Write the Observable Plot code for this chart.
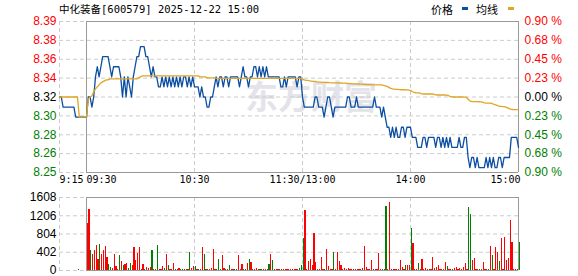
<!DOCTYPE html>
<html><head><meta charset="utf-8">
<script src="https://cdn.jsdelivr.net/npm/d3@7"></script>
<script src="https://cdn.jsdelivr.net/npm/@observablehq/plot@0.6"></script>
<style>
body{margin:0;background:#fff;}
#wrap{position:relative;width:578px;height:276px;overflow:hidden;background:#fff;}
#title{position:absolute;left:59px;top:0;height:18px;line-height:18px;font-size:10.5px;font-family:"DejaVu Sans Mono","Noto Sans CJK SC",monospace;color:#000;white-space:nowrap;}
.lg{position:absolute;top:0;height:18px;line-height:18px;font-size:11px;font-family:"Noto Sans CJK SC",sans-serif;color:#000;}
.sw{position:absolute;width:6px;height:3px;}
#pp{position:absolute;left:0;top:0;}
#vp{position:absolute;left:0;top:190px;}
</style></head>
<body>
<div id="wrap">
  <div id="pp"></div>
  <div id="vp"></div>
  <div id="title"></div>
  <div class="lg" id="lg1" style="left:431px"></div>
  <div class="sw" style="left:462px;top:7px;background:#0b4ea2"></div>
  <div class="lg" id="lg2" style="left:476px"></div>
  <div class="sw" style="left:508px;top:7px;background:#e0a526"></div>
</div>
<script>
// ---------- data ----------
const titleText = "中化装备[600579] 2025-12-22 15:00";
const legendNames = ["价格", "均线"];
const prevClose = 8.32;
const pctLevels = [0.9, 0.675, 0.45, 0.225, 0, -0.225, -0.45, -0.675, -0.9];
const leftLabels = ["8.39","8.38","8.36","8.34","8.32","8.30","8.28","8.26","8.25"];
const rightLabels = ["0.90 %","0.68 %","0.45 %","0.23 %","0.00 %","0.23 %","0.45 %","0.68 %","0.90 %"];
const volTicks = [1608, 1206, 804, 402, 0];
const volTickLabels = ["1608", "1206", "804", "402", "0"];
const xTickMinutes = [-15, 0, 60, 120, 180, 240];
const xTickLabels = ["9:15", "09:30", "10:30", "11:30/13:00", "14:00", "15:00"];
const gridMinutes = [-15, 60, 120, 180];
const sessionStart = 0, sessionEnd = 240, preStart = -15;

// call auction 9:15-9:30
const preMinutes = [-15,-14,-13,-12,-11,-10,-9,-8,-7,-6,-5,-4,0];
const prePrice   = [8.32,8.32,8.31,8.31,8.31,8.31,8.31,8.31,8.31,8.30,8.30,8.30,8.30];
const preAvg     = [8.32,8.32,8.32,8.32,8.32,8.32,8.32,8.32,8.32,8.32,8.32,8.30,8.30];
const preVolMinutes = [-5];
const preVol = [22];
const preDir = ["G"];

// minute prices 09:30 .. 15:00 (index 0..240, 11:30 and 13:00 share index 120)
const price = [
8.30,8.32,8.32,8.31,8.32,8.34,8.35,8.34,8.35,8.36,
8.36,8.36,8.36,8.35,8.34,8.35,8.35,8.35,8.35,8.34,
8.32,8.34,8.32,8.34,8.33,8.32,8.34,8.35,8.36,8.36,
8.37,8.37,8.37,8.36,8.36,8.35,8.34,8.35,8.34,8.34,
8.33,8.33,8.34,8.33,8.34,8.33,8.34,8.33,8.34,8.33,
8.34,8.33,8.34,8.33,8.34,8.34,8.33,8.34,8.33,8.34,
8.33,8.33,8.33,8.32,8.33,8.32,8.32,8.31,8.31,8.32,
8.32,8.33,8.34,8.33,8.34,8.34,8.33,8.34,8.34,8.33,
8.34,8.34,8.34,8.34,8.34,8.33,8.34,8.35,8.34,8.34,
8.33,8.34,8.34,8.35,8.35,8.34,8.35,8.34,8.35,8.34,
8.35,8.34,8.34,8.34,8.34,8.34,8.34,8.34,8.33,8.33,
8.34,8.33,8.34,8.34,8.34,8.34,8.34,8.33,8.34,8.34,
8.32,8.31,8.31,8.31,8.31,8.31,8.31,8.32,8.32,8.31,
8.31,8.31,8.30,8.31,8.32,8.32,8.31,8.30,8.31,8.31,
8.31,8.31,8.31,8.31,8.31,8.32,8.32,8.31,8.31,8.31,
8.32,8.31,8.31,8.31,8.31,8.31,8.31,8.31,8.31,8.31,
8.32,8.31,8.31,8.31,8.30,8.31,8.30,8.29,8.29,8.28,
8.29,8.28,8.29,8.28,8.28,8.29,8.29,8.28,8.29,8.29,
8.29,8.28,8.28,8.28,8.27,8.27,8.27,8.28,8.28,8.27,
8.28,8.28,8.28,8.28,8.27,8.28,8.28,8.27,8.28,8.27,
8.28,8.27,8.28,8.27,8.27,8.27,8.27,8.28,8.27,8.27,
8.28,8.28,8.26,8.25,8.26,8.26,8.25,8.26,8.25,8.25,
8.25,8.25,8.26,8.25,8.26,8.25,8.26,8.25,8.25,8.26,
8.26,8.25,8.26,8.26,8.26,8.26,8.28,8.28,8.28,8.28,
8.27];

const avgPrice = [
8.300,8.318,8.320,8.321,8.325,8.328,8.330,8.332,8.334,8.335,
8.336,8.337,8.337,8.338,8.338,8.338,8.338,8.338,8.338,8.338,
8.338,8.338,8.338,8.338,8.338,8.338,8.338,8.338,8.338,8.339,
8.340,8.341,8.341,8.341,8.341,8.341,8.341,8.341,8.341,8.341,
8.341,8.341,8.341,8.341,8.341,8.341,8.341,8.341,8.341,8.341,
8.341,8.341,8.341,8.341,8.341,8.341,8.341,8.341,8.341,8.341,
8.341,8.341,8.341,8.340,8.340,8.340,8.340,8.339,8.339,8.339,
8.339,8.339,8.3385,8.3385,8.3385,8.3385,8.3385,8.3385,8.3385,8.3385,
8.3385,8.3385,8.3385,8.3385,8.3385,8.3385,8.3385,8.3385,8.3385,8.3385,
8.3385,8.3385,8.3385,8.3385,8.3385,8.3385,8.3385,8.3385,8.3385,8.3385,
8.3385,8.3385,8.3385,8.3385,8.3385,8.3385,8.3385,8.3385,8.3385,8.3385,
8.3385,8.3385,8.3385,8.3385,8.3385,8.3385,8.3385,8.3385,8.3385,8.3385,
8.3380,8.3370,8.3365,8.3365,8.3360,8.3358,8.3355,8.3354,8.3350,8.3348,
8.3347,8.3346,8.3345,8.3344,8.3344,8.3342,8.3341,8.3340,8.3340,8.3340,
8.3340,8.3339,8.3338,8.3337,8.3337,8.3335,8.3333,8.3332,8.3331,8.3330,
8.3330,8.3329,8.3328,8.3327,8.3325,8.3324,8.3323,8.3322,8.3322,8.3321,
8.3321,8.3321,8.3320,8.3320,8.3320,8.3315,8.3310,8.3305,8.3295,8.3285,
8.3280,8.3278,8.3276,8.3275,8.3274,8.3272,8.3272,8.3272,8.3270,8.3268,
8.3266,8.3255,8.3245,8.3242,8.3240,8.3240,8.3232,8.3230,8.3230,8.3230,
8.3230,8.3230,8.3230,8.3228,8.3222,8.3220,8.3220,8.3220,8.3220,8.3220,
8.3218,8.3215,8.3205,8.3202,8.3200,8.3200,8.3200,8.3200,8.3200,8.3200,
8.3199,8.3198,8.3178,8.3162,8.3155,8.3154,8.3154,8.3154,8.3153,8.3152,
8.3150,8.3142,8.3140,8.3140,8.3139,8.3138,8.3130,8.3124,8.3118,8.3110,
8.3108,8.3106,8.3105,8.3100,8.3092,8.3082,8.3078,8.3076,8.3075,8.3075,
8.3074];

const volume = [
1028,1347,434,362,434,543,253,565,347,449,
521,290,130,58,36,347,87,22,326,195,
109,130,159,36,145,109,507,217,376,507,
22,130,22,72,36,72,434,22,22,543,
22,22,87,50,347,109,22,22,159,22,
22,50,30,22,22,22,22,391,50,87,
87,22,22,22,507,347,22,22,22,50,
470,22,22,239,22,326,50,22,22,109,
22,22,22,22,326,22,130,22,22,145,
232,181,22,22,50,22,22,22,22,22,
22,130,362,217,22,22,22,22,22,22,
22,22,22,22,22,22,22,22,40,110,
694,1316,22,205,234,110,819,183,22,22,
278,22,22,453,88,22,22,402,22,402,
197,110,22,40,22,40,22,22,22,22,
22,22,22,40,526,70,22,22,219,22,
22,22,366,22,22,22,1404,22,1491,22,
22,22,22,22,219,70,22,110,110,110,
936,600,22,22,146,22,234,22,40,22,
22,22,278,40,70,100,22,22,22,183,
88,22,22,22,40,70,22,40,22,70,
146,22,1389,1243,219,256,22,22,30,22,
183,22,22,30,526,329,22,497,402,205,
694,22,716,219,256,1111,621,22,22,22,
621];
// R = up tick (red), G = down tick (green)
const volDir = (
"RRGRRRRGRR"+"RRGGRRRRGR"+"GRRGGRRRRR"+"RRGRRRGRRG"+"RRRGRGRRRG"+
"RRGGRGRGRR"+"GRGRRGRGRR"+"RRGGGRRGRG"+"RRGGRRRGGR"+"GRRRRRGGRR"+
"RGRGRRRGRR"+"RRRRRRRRGG"+"GRRRRRRRGR"+"RRGRRRRGRR"+"RRRRRRRRRR"+
"RRRRRRRRRR"+"RRRRGRGRRR"+"RRRRRRRGRR"+"GRRRGRRRRR"+"RRRRRRRRRR"+
"GRRRRRRRRR"+"RRGGRRRRGR"+"RRRGRGRRRG"+"RRRRRRRRRR"+"G").split("");

// ---------- styles ----------
const BLUE = "#0b4ea2", ORANGE = "#e0a526", RED = "#ff0000", GREEN = "#008000";
const FRAME = "#999999", GRID = "#cccccc";
const SANS = "Liberation Sans, Arial, sans-serif";
const MONO = "DejaVu Sans Mono, monospace";

document.getElementById("title").textContent = titleText;
document.getElementById("lg1").textContent = legendNames[0];
document.getElementById("lg2").textContent = legendNames[1];

const yMin = prevClose * (1 - 0.9 / 100), yMax = prevClose * (1 + 0.9 / 100);
const levels = pctLevels.map((pc, i) => ({
  p: prevClose * (1 + pc / 100), left: leftLabels[i], right: rightLabels[i],
  color: pc > 0 ? RED : pc < 0 ? GREEN : "#000000"
}));
const mins = d3.range(sessionStart, sessionEnd + 1);
const priceData = mins.map(m => ({m, p: price[m], a: avgPrice[m]}));
const preData = preMinutes.map((m, i) => ({m, p: prePrice[i], a: preAvg[i]}));
const volData = mins.map(m => ({m, v: volume[m], d: volDir[m]}))
  .concat(preVolMinutes.map((m, i) => ({m, v: preVol[i], d: preDir[i]})));
const xTicks = xTickMinutes.map((m, i) => ({m, label: xTickLabels[i]}));
const xStart = xTicks.slice(0, 2), xMid = xTicks.slice(2, 5), xEnd = xTicks.slice(5);

const xOpts = {domain: [preStart, sessionEnd], axis: null};

const pricePlot = Plot.plot({
  width: 578, height: 190,
  marginTop: 21, marginBottom: 18, marginLeft: 59, marginRight: 60,
  x: xOpts,
  y: {domain: [yMin, yMax], axis: null},
  style: {background: "transparent", overflow: "visible"},
  marks: [
    Plot.text(["东方财富"], {frameAnchor: "middle", dx: 22, dy: 1, fontSize: 33, fontWeight: "bold",
      fontFamily: "Noto Sans CJK SC, sans-serif", fill: "#e3e3e9"}),
    Plot.ruleY(levels, {y: "p", stroke: GRID, strokeDasharray: "4,3"}),
    Plot.ruleX(gridMinutes, {stroke: GRID, strokeDasharray: "4,3"}),
    Plot.ruleX([sessionStart, sessionEnd], {stroke: FRAME}),
    Plot.ruleY([yMin, yMax], {x1: sessionStart, x2: sessionEnd, stroke: FRAME}),
    Plot.line(preData, {x: "m", y: "p", stroke: BLUE, strokeWidth: 1.3}),
    Plot.line(preData, {x: "m", y: "a", stroke: ORANGE, strokeWidth: 1.3}),
    Plot.line(priceData, {x: "m", y: "p", stroke: BLUE, strokeWidth: 1.3}),
    Plot.line(priceData, {x: "m", y: "a", stroke: ORANGE, strokeWidth: 1.3}),
    Plot.text(levels, {y: "p", text: "left", fill: "color", frameAnchor: "left", dx: -3,
      textAnchor: "end", fontSize: 12, fontFamily: SANS}),
    Plot.text(levels, {y: "p", text: "right", fill: "color", frameAnchor: "right", dx: 6,
      textAnchor: "start", fontSize: 12, fontFamily: SANS}),
    Plot.text(xStart, {x: "m", text: "label", frameAnchor: "bottom", dy: 10, dx: 0,
      textAnchor: "start", fontSize: 10, fontFamily: MONO, fill: "#000"}),
    Plot.text(xMid, {x: "m", text: "label", frameAnchor: "bottom", dy: 10,
      textAnchor: "middle", fontSize: 10, fontFamily: MONO, fill: "#000"}),
    Plot.text(xEnd, {x: "m", text: "label", frameAnchor: "bottom", dy: 10, dx: 2,
      textAnchor: "end", fontSize: 10, fontFamily: MONO, fill: "#000"})
  ]
});
document.getElementById("pp").appendChild(pricePlot);

const volPlot = Plot.plot({
  width: 578, height: 86,
  marginTop: 7, marginBottom: 6, marginLeft: 59, marginRight: 60,
  x: xOpts,
  y: {domain: [0, volTicks[0]], axis: null},
  style: {background: "transparent", overflow: "visible"},
  marks: [
    Plot.ruleY(volTicks, {stroke: GRID, strokeDasharray: "4,3"}),
    Plot.ruleX(gridMinutes, {stroke: GRID, strokeDasharray: "4,3"}),
    Plot.rect(volData, {x1: d => d.m + 0.3, x2: d => d.m + 1.0, y1: 0, y2: "v",
      fill: d => d.d === "R" ? RED : GREEN, shapeRendering: "crispEdges"}),
    Plot.ruleX([sessionStart, sessionEnd], {stroke: FRAME}),
    Plot.ruleY([0, volTicks[0]], {x1: sessionStart, x2: sessionEnd, stroke: FRAME}),
    Plot.text(volTicks, {y: d => d, text: (d, i) => volTickLabels[i], frameAnchor: "left", dx: -3,
      textAnchor: "end", fontSize: 12, fontFamily: SANS, fill: "#000"})
  ]
});
document.getElementById("vp").appendChild(volPlot);
</script>
</body></html>
